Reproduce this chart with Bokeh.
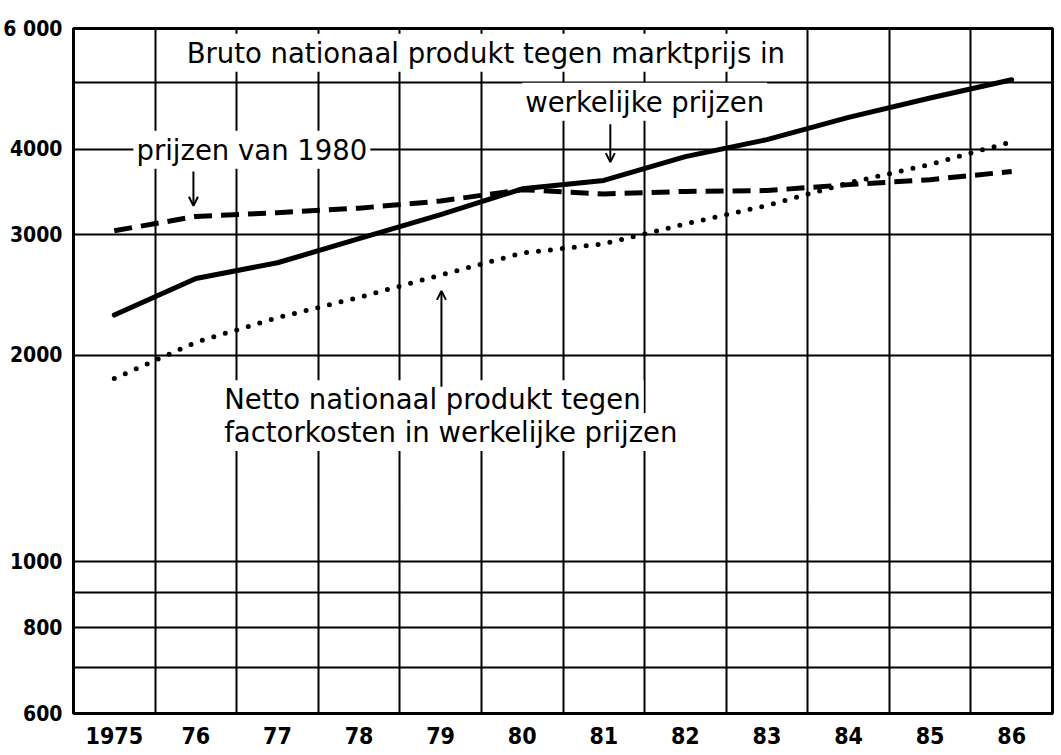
from bokeh.plotting import figure
from bokeh.models import Range1d, FixedTicker, Label, Arrow, OpenHead
from bokeh.embed import file_html
from bokeh.resources import INLINE

# ---- data ----
years = [1975, 1976, 1977, 1978, 1979, 1980, 1981, 1982, 1983, 1984, 1985, 1986]
year_labels = ["1975", "76", "77", "78", "79", "80", "81", "82", "83", "84", "85", "86"]
bnp_current = [2290, 2590, 2730, 2960, 3210, 3500, 3600, 3900, 4130, 4450, 4750, 5050]
bnp_1980 = [3040, 3190, 3230, 3280, 3360, 3490, 3440, 3470, 3480, 3550, 3610, 3710]
nnp_current = [1850, 2090, 2270, 2430, 2620, 2820, 2910, 3110, 3310, 3570, 3800, 4100]
y_ticks = [600, 800, 1000, 2000, 3000, 4000, 6000]
y_tick_labels = ["600", "800", "1000", "2000", "3000", "4000", "6 000"]
y_grid_levels = [700, 800, 900, 1000, 2000, 3000, 4000, 5000]

TXT_FONT = "DejaVu Sans"
TXT_SIZE = "27.5px"
TICK_FONT = "'DejaVu Sans Condensed', 'Liberation Sans Narrow', Roboto, sans-serif"

p = figure(width=1056, height=753, y_axis_type="log",
           x_range=Range1d(years[0] - 0.5, years[-1] + 0.5),
           y_range=Range1d(y_ticks[0], y_ticks[-1]),
           output_backend="svg", toolbar_location=None,
           min_border_left=72, min_border_right=4, min_border_top=28, min_border_bottom=40)

p.background_fill_color = "white"
p.border_fill_color = "white"
p.outline_line_color = "black"
p.outline_line_width = 3

# axes
p.xaxis.ticker = FixedTicker(ticks=years)
p.xaxis.major_label_overrides = {y: l for y, l in zip(years, year_labels)}
p.yaxis.ticker = FixedTicker(ticks=y_ticks)
p.yaxis.major_label_overrides = {t: l for t, l in zip(y_ticks, y_tick_labels)}
for ax in (p.xaxis, p.yaxis):
    ax.axis_line_width = 3
    ax.axis_line_color = "black"
    ax.major_tick_line_color = None
    ax.minor_tick_line_color = None
    ax.major_tick_out = 0
    ax.major_tick_in = 0
    ax.minor_tick_out = 0
    ax.minor_tick_in = 0
    ax.major_label_text_font = TICK_FONT
    ax.major_label_text_font_style = "bold"
    ax.major_label_text_color = "black"
p.xaxis.major_label_text_font_size = "23px"
p.yaxis.major_label_text_font_size = "21px"
p.xaxis.major_label_standoff = 13
p.yaxis.major_label_standoff = 11

# grid
p.xgrid.ticker = FixedTicker(ticks=[y + 0.5 for y in years[:-1]])
p.ygrid.ticker = FixedTicker(ticks=y_grid_levels)
for g in (p.xgrid, p.ygrid):
    g.grid_line_color = "black"
    g.grid_line_width = 2
    g.grid_line_alpha = 1.0

# series
p.line(years, bnp_current, line_color="black", line_width=5, line_cap="round", line_join="round")
p.line(years, bnp_1980, line_color="black", line_width=5, line_dash="18 9", line_cap="butt")
p.line(years, nnp_current, line_color="black", line_width=5, line_dash="0 12", line_cap="round")

# annotations
def lab(x, y, text):
    p.add_layout(Label(x=x, y=y, text=text, text_font=TXT_FONT, text_font_size=TXT_SIZE,
                       text_color="black", text_baseline="alphabetic", text_align="left",
                       background_fill_color="white", padding=3))

lab(1975.85, 5530, "Bruto nationaal produkt tegen marktprijs in")
lab(1980.0, 4690, "werkelijke prijzen")
lab(1975.235, 3990, "prijzen van 1980")
lab(1976.31, 1545, "factorkosten in werkelijke prijzen")
lab(1976.31, 1725, "Netto nationaal produkt tegen")

def arrow(x, y0, y1):
    p.add_layout(Arrow(x_start=x, y_start=y0, x_end=x, y_end=y1, line_width=2,
                       line_color="black",
                       end=OpenHead(size=9, line_width=2, line_color="black")))

arrow(1981.08, 4350, 3829)
arrow(1975.97, 3709, 3307)
arrow(1979.01, 1800, 2484)

open("out.html", "w").write(file_html(p, INLINE))
